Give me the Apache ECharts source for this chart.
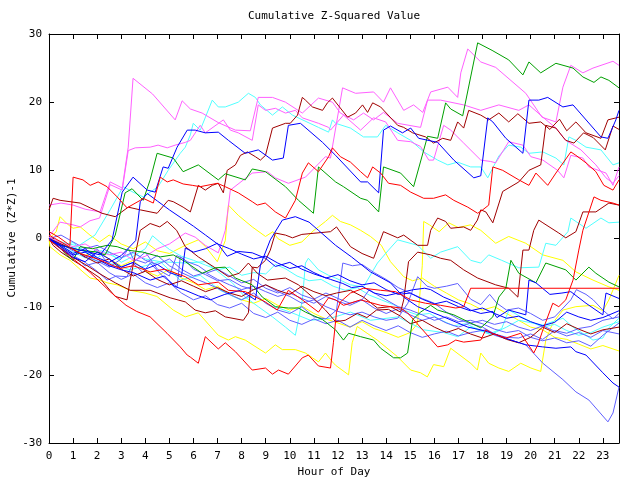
<!DOCTYPE html>
<html><head><meta charset="utf-8">
<script src="https://cdn.jsdelivr.net/npm/echarts@6/dist/echarts.min.js"></script>
<style>html,body{margin:0;padding:0;background:#fff}#c{width:640px;height:480px}</style>
</head><body><div id="c"></div>
<script>
// ---- Data: each walk is [hour, cumulative (z*z)-1] pairs ----
const magentaA = [[0,0.2],[0.5,-0.6],[1,-1.2],[1.5,-0.8],[2,-1.8],[2.5,-2.4],[3,-2.0],[3.5,-3.2],[4,-2.6],[4.5,-1.5],[5,-0.8],[5.66,0.8],[6.07,0.2],[6.49,-1.0],[7.03,-2.1],[7.32,1.2],[7.45,4.7],[7.53,7.1],[8.44,9.6],[9.07,9.8],[9.4,8.9],[9.94,8.1],[10.65,9.0],[11.48,12.0],[11.69,11.8],[12.19,22.1],[12.73,21.3],[13.48,21.5],[13.89,20.0],[14.18,22.1],[14.73,18.8],[15.14,19.6],[15.52,18.5],[15.85,21.5],[16.56,22.2],[16.97,20.7],[17.1,24.3],[17.39,27.8],[17.93,25.9],[18.55,25.1],[19.8,21.3],[20.47,17.8],[21.05,17.1],[21.34,22.2],[21.67,25.4],[22.17,24.3],[22.59,25.0],[23.42,26.0],[23.67,25.4]];
const magentaB = [[0,4.9],[0.5,5.2],[1.0,4.9],[1.5,4.3],[2.12,3.9],[2.54,8.3],[3.04,7.4],[3.29,13.4],[3.49,23.5],[4.3,21.2],[5.24,17.4],[5.53,20.2],[5.87,19.0],[6.36,18.4],[7.03,17.0],[7.74,15.9],[8.36,15.8],[8.69,20.7],[9.28,20.7],[9.82,20.0],[10.52,18.4],[11.19,20.6],[11.77,20.0],[12.1,18.4],[12.65,17.4],[13.06,18.4],[13.48,17.4],[13.89,18.5],[14.48,16.9],[15.43,16.3],[15.72,20.3],[16.26,20.3],[17.22,19.6],[17.93,18.8],[18.68,19.6],[19.51,18.8],[19.93,19.6],[20.51,17.8],[21.05,16.2],[21.46,14.4],[22.09,13.0],[22.71,10.8],[23.13,8.9],[23.42,8.1],[23.67,9.2]];
const magentaC = [[0,0.3],[0.46,2.4],[1.0,2.0],[1.3,1.7],[1.7,2.6],[2.1,3.0],[2.54,7.9],[3.04,7.1],[3.29,12.9],[3.58,13.3],[4.2,13.4],[4.53,13.7],[4.91,13.3],[5.24,13.7],[5.66,14.1],[5.87,14.4],[6.28,16.6],[6.49,15.5],[7.24,17.4],[7.53,15.9],[7.86,15.5],[8.44,14.4],[8.69,19.6],[8.99,18.8],[9.4,19.1],[9.82,18.4],[10.23,18.8],[10.52,17.7],[11.19,16.9],[11.61,16.3],[11.69,15.9],[12.23,18.1],[12.94,15.9],[13.48,17.7],[13.98,17.1],[14.48,14.4],[15.02,14.2],[15.43,13.5],[15.77,11.5],[15.97,11.5],[16.39,16.6],[16.68,15.9],[17.22,14.0],[17.93,11.5],[18.34,11.3],[18.55,11.1],[19.09,14.2],[19.68,13.7],[20.01,12.0],[20.51,11.5],[21.12,10.0],[21.38,8.9],[21.67,12.2],[22.17,11.8],[22.42,10.5],[23.13,9.6],[23.42,7.8],[23.67,10.5]];
const greenA = [[0,-0.2],[0.5,-1.0],[1.29,-1.7],[2.0,-2.0],[2.33,-2.4],[2.75,0.5],[3.16,6.7],[3.45,7.3],[3.91,5.6],[4.2,8.6],[4.49,12.5],[5.16,11.8],[5.57,9.8],[6.2,10.8],[7.03,8.6],[7.32,9.5],[8.15,8.6],[8.44,10.2],[8.99,9.8],[9.82,7.6],[10.36,5.6],[10.98,3.7],[11.19,10.5],[11.9,8.3],[12.23,7.6],[12.94,5.9],[13.23,5.6],[13.69,3.9],[13.89,10.5],[14.6,9.6],[15.14,7.6],[15.72,15.0],[16.14,14.7],[16.47,19.9],[16.68,19.0],[17.18,18.0],[17.8,28.7],[18.4,27.6],[19.09,26.2],[19.68,24.0],[19.93,25.9],[20.42,24.3],[21.05,25.7],[21.76,25.0],[22.17,23.7],[22.63,22.9],[22.92,23.7],[23.25,23.2],[23.67,22.1]];
const greenB = [[0,0],[0.5,-1.5],[0.72,-2.4],[1.0,-3.2],[1.29,-1.2],[1.8,-1.5],[2.41,-1.0],[2.83,-1.2],[3.24,-1.7],[3.9,-2.0],[4.62,-2.7],[5.16,-2.4],[5.66,-3.4],[6.36,-5.1],[6.91,-4.3],[7.32,-4.2],[7.74,-5.8],[8.44,-6.8],[8.86,-8.6],[9.4,-10.0],[9.94,-10.2],[10.36,-10.2],[10.65,-10.8],[11.36,-11.9],[11.9,-13.4],[12.23,-14.9],[12.44,-13.9],[12.94,-14.4],[13.48,-14.9],[13.77,-16.1],[14.31,-17.5],[14.6,-17.5],[14.89,-16.8],[15.1,-11.9],[15.43,-10.8],[15.85,-9.8],[16.14,-10.5],[16.81,-11.2],[17.39,-12.2],[17.93,-13.1],[18.43,-11.5],[18.68,-8.6],[18.97,-7.3],[19.18,-3.2],[19.51,-5.1],[20.22,-6.5],[20.63,-3.6],[21.46,-4.6],[21.88,-6.1],[22.42,-4.2],[22.71,-5.1],[23.25,-6.4],[23.67,-7.1]];
const blueA = [[0,-0.2],[0.5,-1.0],[1.29,-1.7],[2.12,-2.4],[2.62,-0.2],[3.04,6.8],[3.49,9.0],[4.08,7.1],[4.41,6.8],[4.74,10.5],[4.95,10.3],[5.32,13.4],[5.74,15.9],[6.07,15.9],[6.49,15.5],[7.03,15.6],[7.45,14.4],[8.15,12.5],[8.69,13.0],[9.28,11.5],[9.73,11.8],[9.94,16.6],[10.44,16.9],[11.36,14.1],[11.9,12.2],[12.94,8.3],[13.23,8.3],[13.69,6.7],[13.89,15.9],[14.18,16.5],[14.68,15.5],[15.02,16.2],[15.35,14.7],[16.14,14.1],[16.81,11.5],[17.64,8.9],[17.93,9.2],[18.22,17.7],[18.43,17.1],[18.97,14.7],[19.68,12.5],[19.93,20.3],[20.34,20.3],[20.71,20.7],[21.34,19.3],[21.76,19.6],[22.92,14.9],[23.21,14.7],[23.54,17.4],[23.67,18.8]];
const blueB = [[0,0],[0.5,-1.2],[1,-2.4],[1.5,-2.0],[2,-3.0],[2.5,-4.0],[3,-4.6],[3.5,-5.0],[4.2,-6.1],[4.8,-5.5],[5.2,-7.0],[5.66,-7.6],[6.2,-8.4],[6.7,-9.0],[7.3,-8.2],[7.95,-7.6],[8.57,-9.0],[8.78,-3.9],[9.19,-0.2],[9.69,2.7],[10.23,3.2],[10.8,2.4],[11.19,1.2],[11.9,-1.0],[12.56,-2.7],[13.35,-4.9],[14.18,-6.5],[14.73,-8.6],[15.31,-10.0],[16.39,-11.5],[17.39,-13.0],[17.93,-13.4],[18.5,-14.0],[19.1,-14.8],[19.8,-15.6],[20.5,-15.9],[21.05,-16.1],[21.67,-15.9],[21.88,-16.6],[22.3,-17.1],[23.0,-19.7],[23.42,-21.2],[23.67,-21.8]];
const blueC = [[0,0],[0.5,-1.5],[1,-2.8],[1.5,-3.4],[2,-2.0],[2.5,-3.0],[3,-4.2],[3.5,-3.5],[4,-4.5],[4.5,-3.8],[5,-5.0],[5.5,-5.6],[5.66,-1.4],[6.0,-2.0],[6.5,-1.5],[6.99,-0.7],[7.4,-2.6],[7.86,-1.9],[8.44,-2.1],[8.99,-2.9],[9.4,-4.1],[10.0,-3.5],[10.5,-4.5],[11.0,-5.2],[11.69,-6.0],[12.2,-6.6],[12.56,-7.2],[13.0,-7.0],[13.5,-8.0],[14.0,-8.4],[14.5,-8.0],[15.14,-7.5],[15.6,-7.3],[15.85,-7.5],[16.39,-8.6],[17.0,-9.5],[17.51,-10.5],[17.93,-11.0],[18.43,-10.7],[18.6,-11.6],[19.09,-10.5],[19.8,-11.2],[19.93,-6.1],[20.22,-6.5],[20.8,-8.2],[21.3,-8.0],[21.67,-7.8],[22.3,-9.5],[23.0,-11.2],[23.13,-8.0],[23.67,-8.8]];
const blueD = [[0,0],[0.5,-1.0],[1,-2.2],[1.5,-1.5],[2,-2.8],[2.5,-3.5],[3,-2.5],[3.6,-0.3],[3.79,5.4],[4.08,6.6],[4.5,5.5],[5.0,4.2],[5.5,3.0],[6.0,1.8],[6.5,0.5],[7.0,-0.8],[7.5,-1.5],[8.0,-2.3],[8.5,-3.0],[9.0,-2.6],[9.5,-3.6],[10.0,-4.4],[10.5,-4.0],[11.0,-5.0],[11.5,-5.8],[12.0,-5.3],[12.5,-6.2],[13.0,-6.8],[13.5,-6.5],[14.0,-7.5],[14.5,-8.2],[15.0,-8.0],[15.5,-8.9],[16.0,-9.6],[16.5,-9.2],[17.0,-10.0],[17.5,-10.6],[18.0,-10.2],[18.5,-11.0],[19.0,-11.7],[19.5,-11.4],[20.0,-12.2],[20.5,-12.8],[21.0,-12.3],[21.5,-10.8],[22.0,-11.5],[22.5,-12.0],[23.0,-11.6],[23.67,-10.6]];
const lightBlueA = [[0,0],[0.5,-1.5],[1,-2.5],[1.5,-4.0],[2,-3.5],[2.5,-5.0],[3,-6.0],[3.5,-5.2],[4,-6.5],[4.5,-7.2],[5,-6.5],[5.5,-8.0],[6,-9.0],[6.5,-8.4],[7,-9.7],[7.5,-10.2],[8,-9.5],[8.5,-11.0],[9,-11.6],[9.5,-10.8],[10,-12.0],[10.5,-12.6],[11,-11.8],[11.5,-12.5],[12,-12.0],[12.5,-13.0],[13,-12.0],[13.5,-12.8],[14,-13.5],[14.5,-12.8],[15,-13.8],[15.5,-14.5],[16,-14.0],[16.5,-13.6],[17,-14.3],[17.5,-13.8],[18.14,-13.4],[18.5,-14.2],[19.18,-14.9],[19.8,-15.6],[20.51,-18.3],[21.34,-20.7],[21.88,-22.5],[22.42,-23.7],[23.21,-26.9],[23.42,-25.6],[23.67,-21.8]];
const lightBlueB = [[0,0],[0.5,-0.8],[1,-1.8],[1.5,-2.5],[2,-3.3],[2.5,-4.2],[3,-3.0],[3.3,-1.5],[3.5,-3.0],[4,-3.6],[4.5,-2.5],[5,-4.0],[5.5,-5.0],[6,-5.8],[6.5,-6.5],[7,-7.3],[7.5,-8.2],[8,-9.0],[8.5,-8.0],[9,-9.5],[9.5,-10.5],[10,-11.0],[10.5,-10.0],[11,-11.5],[11.5,-11.8],[11.94,-10.5],[12.2,-3.6],[12.6,-4.0],[13.0,-3.8],[13.5,-5.0],[14.0,-6.0],[14.5,-7.2],[15.0,-8.0],[15.5,-8.8],[16.0,-9.5],[16.5,-10.8],[17.0,-11.8],[17.5,-12.5],[18.0,-13.0],[18.5,-14.0],[19.0,-14.5],[19.5,-14.6],[20.0,-14.0],[20.5,-14.8],[21.0,-13.5],[21.5,-13.9],[22.0,-13.2],[22.5,-12.9],[23.0,-12.0],[23.67,-11.5]];
const lightBlueC = [[0,0],[0.5,-1.0],[1,-1.5],[1.5,-2.8],[2.0,-1.5],[2.5,-4.0],[3.0,-4.2],[3.5,-3.5],[4.0,-2.0],[4.5,-4.5],[5.0,-5.5],[5.3,-2.5],[5.6,-3.0],[6.0,-4.5],[6.5,-5.3],[7.0,-6.2],[7.5,-6.0],[8.0,-7.0],[8.5,-7.5],[9.0,-6.8],[9.5,-7.8],[10.0,-8.5],[10.5,-9.5],[11.0,-9.0],[11.5,-10.0],[12.0,-10.7],[12.5,-11.2],[13.0,-10.8],[13.5,-11.5],[14.0,-12.0],[14.48,-11.7],[14.9,-9.5],[15.31,-5.6],[15.7,-7.0],[16.0,-7.3],[16.5,-7.0],[16.97,-6.6],[17.51,-8.9],[17.93,-9.7],[18.3,-8.2],[18.6,-9.5],[19.0,-10.5],[19.5,-10.2],[20.0,-11.0],[20.5,-12.0],[21.0,-11.5],[21.67,-9.0],[21.9,-7.5],[22.3,-8.2],[22.6,-9.0],[23.0,-10.5],[23.42,-11.8],[23.67,-11.0]];
const lightBlueD = [[0,0],[0.5,0.5],[1,-0.5],[1.5,-1.5],[2,-1.0],[2.5,-2.0],[3,-2.8],[3.5,-2.0],[4,-3.2],[4.5,-3.8],[5,-3.0],[5.5,-4.5],[6,-5.5],[6.5,-5.0],[7,-6.0],[7.5,-6.8],[8,-7.5],[8.5,-7.0],[9,-7.8],[9.5,-8.5],[10,-8.0],[10.5,-8.8],[11,-9.5],[11.5,-8.5],[12,-9.2],[12.5,-9.8],[13,-9.0],[13.3,-7.5],[13.6,-8.2],[14,-9.0],[14.5,-10.0],[15,-10.5],[15.5,-11.2],[16,-12.0],[16.5,-11.5],[17,-12.2],[17.5,-12.0],[18.0,-12.5],[18.5,-13.3],[19.0,-13.8],[19.5,-13.5],[20.0,-14.5],[20.5,-15.0],[21.0,-14.6],[21.5,-15.3],[22.0,-15.0],[22.5,-15.8],[23.0,-14.2],[23.67,-12.4]];
const lightBlueE = [[0,0],[0.5,-1.5],[1,-2.5],[1.5,-3.5],[2,-4.8],[2.41,-6.1],[2.8,-5.5],[3.24,-5.6],[3.49,-3.6],[3.9,-5.0],[4.2,-3.6],[4.74,-5.6],[5.32,-7.1],[5.45,-2.7],[5.74,-3.4],[6.2,-4.0],[6.6,-5.0],[7.0,-4.5],[7.5,-5.5],[8.0,-6.5],[8.5,-6.0],[9.0,-7.3],[9.5,-8.0],[10.0,-7.2],[10.5,-8.3],[11.0,-8.9],[11.5,-8.0],[12.0,-8.8],[12.5,-9.5],[13.0,-9.0],[13.5,-10.2],[14.0,-11.0],[14.5,-10.3],[15.0,-11.2],[15.5,-12.0],[16.0,-11.5],[16.5,-12.4],[17.0,-13.0],[17.5,-12.4],[18.0,-12.0],[18.5,-12.6],[19.0,-12.2],[19.5,-13.0],[20.0,-13.5],[20.5,-12.8],[21.0,-13.6],[21.5,-14.3],[22.0,-13.8],[22.5,-14.5],[23.0,-13.5],[23.67,-14.0]];
const cyanA = [[0,-0.2],[0.5,-1.0],[1.08,-1.4],[1.91,0.5],[2.54,4.2],[3.08,7.6],[3.49,6.8],[3.91,6.1],[4.53,7.6],[4.95,10.0],[5.45,12.5],[5.66,13.4],[5.87,15.2],[5.99,16.9],[6.28,15.9],[6.78,20.3],[7.03,19.3],[7.32,19.3],[7.86,20.0],[8.28,21.3],[8.57,20.7],[8.78,19.6],[9.28,18.1],[9.69,19.3],[10.11,18.1],[11.19,16.3],[11.61,15.6],[11.77,17.4],[11.9,16.9],[12.52,16.2],[13.06,14.9],[13.64,14.9],[13.98,16.6],[14.48,15.5],[15.02,14.4],[15.56,12.7],[16.14,11.5],[16.56,10.8],[16.97,11.2],[17.51,10.5],[17.93,10.5],[18.22,8.9],[18.68,12.1],[19.09,13.7],[19.59,13.4],[19.93,12.5],[20.51,12.7],[21.05,11.8],[21.38,10.8],[21.59,14.9],[21.88,14.4],[22.3,13.4],[22.92,13.0],[23.42,10.8],[23.67,11.1]];
const cyanB = [[0,0],[0.5,-0.5],[1.08,-1.0],[1.6,-2.0],[2.2,-1.8],[2.9,-3.0],[3.5,-2.2],[4.0,-3.0],[4.62,-3.4],[5.66,-3.6],[6.49,-3.4],[7.61,-6.5],[8.15,-8.6],[8.69,-10.0],[9.28,-11.5],[9.82,-13.0],[10.23,-14.2],[10.52,-9.0],[10.65,-3.6],[10.77,-2.9],[11.19,-4.6],[11.61,-5.4],[11.9,-5.8],[12.52,-6.8],[13.06,-7.1],[13.64,-3.6],[14.1,-1.7],[14.48,-0.2],[15.31,-1.0],[15.85,-2.9],[16.26,-2.0],[16.97,-1.2],[17.51,-3.2],[17.93,-3.6],[18.26,-2.4],[18.8,-3.2],[19.51,-4.3],[20.34,-4.2],[20.63,-0.7],[21.05,-1.0],[21.55,1.0],[21.67,3.0],[22.3,1.5],[22.92,3.0],[23.25,2.3],[23.67,2.4]];
const cyanC = [[0,0],[0.5,-1.2],[1.0,-2.0],[1.5,-2.8],[2.12,-3.4],[2.7,-3.8],[3.37,-4.6],[4.0,-4.0],[4.62,-3.4],[5.45,-6.1],[6.28,-5.4],[7.11,-7.6],[7.95,-9.0],[8.5,-8.4],[9.19,-9.8],[10.02,-10.8],[10.86,-12.0],[11.69,-11.7],[12.52,-10.8],[13.35,-12.0],[14.48,-11.5],[15.56,-13.4],[16.4,-13.8],[16.97,-14.4],[17.51,-13.0],[18.34,-14.1],[19.0,-13.0],[19.51,-12.0],[20.51,-12.7],[21.34,-11.7],[21.76,-13.0],[22.59,-14.9],[23.0,-14.6],[23.25,-13.1],[23.67,-11.7]];
const cyanD = [[0,0],[0.5,-1.0],[1,-0.6],[1.5,-2.0],[2,-2.8],[2.5,-2.0],[3,-3.5],[3.5,-2.6],[4,-1.5],[4.3,0.4],[4.6,-0.5],[5.0,-1.6],[5.5,-2.6],[6.0,-3.2],[6.5,-3.9],[7.0,-4.6],[7.5,-4.2],[8.0,-5.4],[8.5,-5.0],[9.0,-5.2],[9.4,-3.8],[9.8,-4.4],[10.3,-5.5],[10.8,-6.2],[11.3,-6.0],[11.8,-7.0],[12.3,-7.6],[12.8,-7.2],[13.3,-8.3],[13.8,-9.0],[14.3,-9.7],[14.8,-10.6],[15.3,-11.2],[15.8,-11.0],[16.3,-12.0],[16.8,-12.8],[17.3,-12.5],[17.8,-13.3],[18.3,-14.0],[18.8,-13.2],[19.1,-10.5],[19.5,-11.3],[20.0,-12.2],[20.5,-13.0],[21.0,-12.6],[21.5,-13.5],[22.0,-14.2],[22.5,-13.8],[23.0,-13.0],[23.67,-12.2]];
const yellowA = [[0,0],[0.04,-1.2],[0.46,-2.4],[0.87,-3.2],[1.41,-4.9],[1.71,-5.8],[2.12,-6.1],[2.41,-6.5],[2.83,-6.8],[3.37,-7.6],[3.99,-8.0],[4.48,-8.5],[5.16,-10.5],[5.66,-11.5],[6.2,-10.9],[7.03,-14.2],[7.45,-14.9],[7.74,-14.4],[8.15,-14.9],[8.99,-16.8],[9.4,-15.6],[9.69,-16.3],[10.23,-16.3],[10.65,-16.8],[10.94,-17.5],[11.19,-18.1],[11.48,-16.8],[11.77,-18.1],[11.9,-18.6],[12.44,-20.0],[12.59,-15.3],[12.8,-12.9],[13.21,-13.9],[13.63,-14.9],[14.46,-17.3],[15.02,-19.3],[15.43,-19.7],[15.71,-20.3],[15.97,-18.5],[16.39,-18.8],[16.68,-16.1],[17.51,-18.3],[17.79,-19.3],[17.93,-16.8],[18.26,-18.3],[18.68,-19.0],[19.09,-19.5],[19.59,-18.3],[20.01,-19.0],[20.42,-19.5],[20.63,-14.9],[20.92,-12.4],[21.34,-10.5],[21.88,-10.0],[22.59,-9.8],[23.0,-10.6],[23.25,-9.0],[23.67,-5.4]];
const yellowB = [[0,0],[0.3,1.0],[0.46,3.2],[0.8,2.0],[1.0,1.5],[1.3,1.7],[1.7,0.5],[2.1,-0.5],[2.5,0.5],[3.0,-0.8],[3.5,-1.5],[4.0,-0.5],[4.5,-1.8],[5.0,-2.2],[5.66,-1.0],[6.2,-0.2],[6.5,-1.2],[6.99,-3.4],[7.32,-0.3],[7.45,4.9],[7.86,3.4],[8.44,1.7],[8.99,0.3],[9.3,1.0],[9.5,0.0],[10.0,-1.0],[10.5,-0.5],[11.0,1.2],[11.19,1.7],[11.48,2.5],[11.77,3.4],[12.1,2.5],[12.52,2.0],[12.94,1.2],[13.35,0.3],[13.8,-1.0],[14.18,-3.4],[14.73,-5.6],[15.1,-6.2],[15.5,-5.8],[16.0,-7.0],[16.5,-8.0],[17.0,-9.0],[17.5,-9.6],[18.0,-10.5],[18.5,-10.0],[19.0,-11.0],[19.5,-12.0],[20.0,-13.0],[20.5,-13.4],[21.0,-14.5],[21.5,-14.8],[22.0,-15.5],[22.5,-16.2],[23.0,-15.7],[23.67,-16.5]];
const yellowC = [[0,0],[0.5,-0.5],[1,-1.5],[1.5,-2.5],[2,-1.8],[2.5,-3.0],[3,-4.0],[3.5,-3.2],[4,-4.8],[4.5,-5.5],[5,-4.5],[5.5,-5.8],[6,-6.5],[6.5,-7.5],[7,-7.0],[7.5,-8.2],[8,-9.0],[8.5,-9.5],[9,-8.8],[9.5,-9.8],[10,-10.5],[10.5,-9.9],[11,-11.0],[11.5,-11.8],[12.0,-12.4],[12.5,-13.0],[13.0,-12.2],[13.5,-13.2],[14.0,-13.8],[14.5,-14.5],[15.0,-13.8],[15.3,-12.5],[15.5,-4.0],[15.56,2.5],[15.8,2.0],[16.2,1.0],[16.6,2.3],[17.0,1.6],[17.5,2.0],[17.93,1.2],[18.55,-0.7],[19.09,0.3],[19.8,-0.7],[20.5,-2.4],[21.34,-3.2],[21.88,-4.9],[22.59,-6.1],[23.25,-7.1],[23.67,-7.6]];
const darkRedA = [[0,4.2],[0.17,5.9],[0.46,5.6],[1.29,5.2],[1.71,4.5],[2.2,3.7],[2.75,3.2],[3.29,4.6],[3.79,4.2],[4.49,3.7],[4.95,5.6],[5.16,5.4],[5.57,4.6],[5.87,3.9],[6.2,7.8],[6.49,7.1],[6.78,7.8],[7.03,8.1],[7.24,6.7],[7.4,10.0],[7.74,10.8],[7.95,12.2],[8.24,12.7],[8.57,12.0],[8.78,11.5],[8.99,12.2],[9.28,16.2],[9.82,16.9],[10.02,16.9],[10.32,18.1],[10.52,20.7],[10.65,20.3],[10.94,19.3],[11.36,18.8],[11.56,19.9],[11.77,20.6],[12.4,17.8],[12.73,18.4],[13.02,19.6],[13.23,18.5],[13.44,19.9],[13.77,19.3],[14.48,16.6],[14.73,16.3],[15.1,15.5],[15.64,14.9],[15.97,14.0],[16.35,14.7],[16.68,14.4],[16.97,17.1],[17.22,16.2],[17.43,18.8],[17.93,18.1],[18.26,17.4],[18.68,18.4],[19.09,17.1],[19.47,18.3],[19.93,16.9],[20.42,17.1],[20.8,16.0],[21.2,17.5],[21.5,15.8],[21.88,17.1],[22.3,15.5],[22.92,14.7],[23.21,17.4],[23.67,17.8]];
const darkRedB = [[0,0],[0.5,-1.2],[0.87,-2.5],[1.5,-3.8],[2.12,-5.2],[2.75,-6.5],[3.37,-7.6],[4.2,-7.6],[5.03,-8.7],[5.66,-9.3],[6.07,-10.5],[6.49,-10.9],[6.91,-10.6],[7.32,-11.5],[8.07,-12.0],[8.28,-10.9],[8.44,-4.2],[8.65,-4.3],[8.99,-3.2],[9.19,-1.7],[9.4,0.8],[9.82,0.5],[10.11,0.1],[10.5,0.6],[11.69,1.0],[11.94,1.7],[12.52,-1.2],[13.0,-2.2],[13.48,-2.9],[13.89,1.0],[14.48,0.1],[14.73,0.5],[15.31,-1.0],[15.72,-1.0],[15.85,1.2],[16.14,3.0],[16.47,2.5],[16.68,1.5],[17.22,1.7],[17.51,1.2],[17.79,2.7],[17.93,4.2],[18.14,3.9],[18.43,2.3],[18.84,6.9],[19.51,8.3],[19.93,10.0],[20.42,10.8],[20.63,16.6],[21.05,16.2],[21.34,14.9],[21.46,14.4],[21.8,14.0],[22.2,15.5],[22.6,14.8],[23.1,13.0],[23.42,16.5],[23.67,16.0]];
const darkRedC = [[0,0],[0.5,-0.8],[1.0,-1.6],[1.5,-2.7],[2.0,-3.6],[2.5,-3.0],[3.0,-4.5],[3.5,-5.5],[4.0,-4.8],[4.5,-6.0],[5.0,-6.8],[5.5,-6.2],[6.0,-7.0],[6.5,-7.8],[7.0,-7.2],[7.5,-8.0],[8.0,-8.5],[8.5,-7.5],[9.0,-6.8],[9.5,-7.6],[10.0,-8.2],[10.5,-7.0],[11.0,-7.8],[11.5,-8.4],[11.94,-8.0],[12.52,-7.6],[13.06,-8.6],[13.64,-10.2],[14.18,-10.0],[14.6,-10.8],[14.73,-9.0],[14.93,-3.4],[15.31,-2.0],[15.85,-2.4],[16.26,-2.9],[16.68,-3.2],[17.22,-4.6],[17.8,-5.8],[18.55,-6.8],[19.09,-7.3],[19.47,-8.6],[19.68,-1.7],[19.93,-1.7],[20.13,1.2],[20.34,2.7],[20.51,2.3],[21.17,0.8],[21.46,0.1],[21.88,1.0],[22.17,3.9],[22.71,3.9],[23.25,5.2],[23.67,4.9]];
const darkRedD = [[0,0],[0.17,-1.0],[0.5,-2.0],[1.0,-3.2],[1.41,-4.1],[2.12,-5.8],[2.41,-7.1],[2.75,-8.5],[3.24,-9.0],[3.37,-6.1],[3.65,-1.2],[3.79,1.2],[4.2,2.2],[4.6,1.7],[4.91,2.5],[5.3,1.2],[5.66,-1.2],[6.2,-2.7],[7.03,-4.6],[7.45,-5.6],[7.9,-5.1],[8.28,-3.6],[8.65,-5.1],[9.07,-6.1],[9.82,-5.8],[10.36,-6.8],[10.94,-8.6],[11.48,-10.5],[11.9,-12.2],[12.3,-12.0],[12.8,-11.0],[13.2,-11.6],[13.6,-10.5],[14.1,-10.4],[14.6,-11.4],[15.0,-12.5],[15.5,-12.0],[16.0,-13.0],[16.5,-13.8],[17.0,-13.2],[17.5,-14.0],[18.0,-14.6],[18.5,-14.0],[19.0,-14.8],[19.5,-15.3],[20.0,-14.5],[20.5,-13.0],[21.0,-13.8],[21.5,-12.5],[22.0,-13.3],[22.5,-14.0],[23.0,-13.4],[23.67,-13.0]];
const redA = [[0,1.0],[0.4,0.2],[0.87,-1.0],[1.0,9.0],[1.41,8.6],[1.71,7.8],[2.04,8.3],[2.41,7.6],[2.83,6.1],[3.24,4.5],[3.79,5.6],[3.91,5.9],[4.33,5.2],[4.62,9.0],[4.91,8.3],[5.16,8.6],[5.57,8.0],[5.95,7.8],[6.28,7.6],[6.99,8.1],[7.32,7.6],[7.86,6.7],[8.44,5.4],[8.65,4.9],[8.98,5.2],[9.4,3.9],[9.82,3.0],[10.23,5.6],[10.52,9.6],[10.77,11.1],[11.19,9.8],[11.61,12.0],[11.77,13.3],[12.1,12.0],[12.52,11.2],[12.94,9.8],[13.23,8.9],[13.44,10.5],[13.77,9.6],[14.1,8.1],[14.6,7.8],[15.02,6.8],[15.56,5.9],[15.97,5.9],[16.47,6.4],[16.81,5.6],[17.39,4.6],[17.8,3.7],[18.01,4.2],[18.26,4.9],[18.43,10.5],[18.84,10.0],[19.51,8.6],[19.93,7.8],[20.22,9.6],[20.71,7.8],[21.05,9.6],[21.67,12.7],[21.88,12.2],[22.3,11.1],[22.71,9.8],[23.04,7.8],[23.42,7.1],[23.67,8.6]];
const redB = [[0,-0.2],[0.87,-2.6],[1.71,-5.0],[2.54,-7.8],[3.2,-9.8],[3.64,-10.7],[4.2,-11.5],[4.9,-13.9],[5.45,-15.9],[5.74,-17.1],[5.87,-17.4],[6.2,-18.3],[6.49,-14.4],[7.03,-16.2],[7.32,-15.3],[7.74,-16.6],[8.44,-19.3],[8.99,-19.0],[9.28,-19.9],[9.53,-19.3],[9.94,-19.9],[10.52,-17.5],[10.77,-17.1],[11.19,-18.7],[11.69,-19.0],[11.81,-15.3],[11.94,-10.8],[12.1,-9.3],[12.52,-8.0],[13.06,-7.3],[13.77,-7.6],[14.39,-7.8],[15.02,-9.0],[15.64,-9.5],[16.26,-9.8],[16.89,-10.2],[17.22,-10.0],[17.51,-7.3],[23.67,-7.3]];
const redC = [[0,0.5],[0.5,-0.5],[1.29,-2.2],[2.0,-3.0],[2.95,-4.4],[3.5,-4.0],[4.2,-4.9],[4.8,-4.5],[5.66,-5.6],[6.2,-6.8],[7.03,-6.4],[7.45,-7.6],[8.15,-7.8],[8.98,-9.3],[9.48,-10.5],[9.94,-7.6],[10.52,-9.0],[11.19,-10.8],[11.61,-8.7],[11.9,-9.0],[12.23,-9.8],[12.94,-9.0],[13.77,-9.8],[14.6,-10.2],[14.89,-10.9],[16.14,-15.9],[16.56,-15.6],[16.89,-14.9],[17.22,-15.2],[17.93,-14.9],[18.14,-13.4],[18.4,-13.9],[18.97,-14.6],[19.59,-13.9],[20.13,-16.8],[20.3,-15.6],[20.51,-13.4],[20.92,-9.5],[21.17,-10.0],[21.46,-9.0],[21.76,-6.1],[22.0,-1.7],[22.17,1.2],[22.63,6.1],[22.92,5.6],[23.42,5.2],[23.67,4.9]];

const xMin = 0, xMax = 23.67, xStep = 1;
const yMin = -30, yMax = 30, yStep = 10;

const RED = '#ff0000', DARKRED = '#a00000', GREEN = '#00a000', BLUE = '#0000ff',
      LIGHTBLUE = '#6060ff', MAGENTA = '#ff60ff', CYAN = '#50ffff', YELLOW = '#ffff00';

const walks = [
  [yellowB, YELLOW], [yellowC, YELLOW], [yellowA, YELLOW],
  [cyanD, CYAN], [cyanC, CYAN], [cyanB, CYAN], [cyanA, CYAN],
  [lightBlueA, LIGHTBLUE], [lightBlueB, LIGHTBLUE], [lightBlueC, LIGHTBLUE], [lightBlueD, LIGHTBLUE], [lightBlueE, LIGHTBLUE],
  [magentaC, MAGENTA], [magentaB, MAGENTA], [magentaA, MAGENTA],
  [darkRedD, DARKRED], [darkRedC, DARKRED], [darkRedB, DARKRED], [darkRedA, DARKRED],
  [greenB, GREEN], [greenA, GREEN],
  [blueD, BLUE], [blueC, BLUE], [blueB, BLUE], [blueA, BLUE],
  [redC, RED], [redB, RED], [redA, RED]
];

const FONT = 'DejaVu Sans Mono';
const txt = {color: '#000', fontFamily: FONT, fontSize: 11};

const chart = echarts.init(document.getElementById('c'), null, {renderer: 'canvas'});
const mkX = (pos, labels) => ({
  type: 'value', min: xMin, max: xMax, interval: xStep, position: pos,
  axisLine: {show: true, onZero: false, lineStyle: {color: '#000', width: 1}},
  axisTick: {show: true, inside: true, length: 5, lineStyle: {color: '#000', width: 1}},
  axisLabel: {show: labels, margin: 8, ...txt, formatter: v => Number.isInteger(v) ? String(v) : ''},
  splitLine: {show: false}
});
const mkY = (pos, labels) => ({
  type: 'value', min: yMin, max: yMax, interval: yStep, position: pos,
  axisLine: {show: true, onZero: false, lineStyle: {color: '#000', width: 1}},
  axisTick: {show: true, inside: true, length: 5, lineStyle: {color: '#000', width: 1}},
  axisLabel: {show: labels, margin: 7, ...txt},
  splitLine: {show: false}
});
const xBottom = Object.assign(mkX('bottom', true), {name: 'Hour of Day', nameLocation: 'middle', nameGap: 22, nameTextStyle: txt});
const FONTCSS = '11px "' + FONT + '"';

chart.setOption({
  animation: false,
  backgroundColor: '#fff',
  grid: {left: 49, right: 21, top: 34, bottom: 37, containLabel: false, outerBoundsMode: 'none'},
  graphic: [
    {type: 'text', x: 334, y: 16, style: {text: 'Cumulative Z-Squared Value', font: FONTCSS, fill: '#000', textAlign: 'center', textVerticalAlign: 'middle'}},
    {type: 'text', x: 12, y: 238, rotation: Math.PI / 2, style: {text: 'Cumulative (Z*Z)-1', font: FONTCSS, fill: '#000', textAlign: 'center', textVerticalAlign: 'middle'}}
  ],
  xAxis: [xBottom, mkX('top', false)],
  yAxis: [mkY('left', true), mkY('right', false)],
  series: walks.map(([d, c]) => ({
    type: 'line', xAxisIndex: 0, yAxisIndex: 0, data: d, showSymbol: false, symbol: 'none',
    silent: true, lineStyle: {color: c, width: 1}, itemStyle: {color: c}
  }))
});
</script>
</body></html>
